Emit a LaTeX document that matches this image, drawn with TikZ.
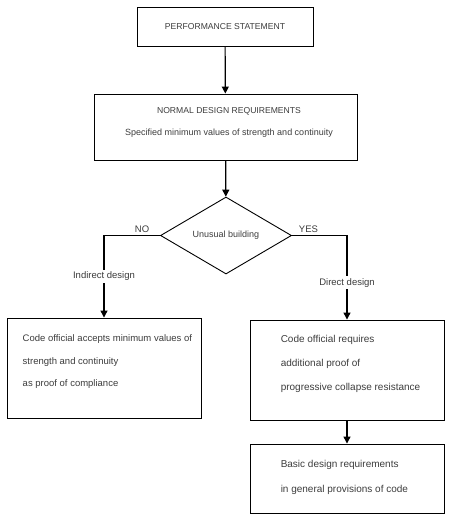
\documentclass[tikz,border=0pt]{standalone}
\usepackage{fontspec}
\setmainfont{Liberation Sans}
\usepackage{tikz}
\usetikzlibrary{shapes.geometric,arrows.meta,positioning,calc}
\definecolor{textgray}{RGB}{60,60,60}

\begin{document}
\begin{tikzpicture}[
    x=1pt, y=-1pt,
    box/.style={draw, line width=0.9pt, rectangle, inner sep=0pt},
    txt/.style={font=\fontsize{10}{24}\selectfont, text=textgray, align=left, inner sep=0pt},
    decision/.style={draw, line width=0.9pt, diamond, minimum width=131pt, minimum height=77pt, inner sep=0pt, font=\fontsize{9}{10}\selectfont, text=textgray},
    flow/.style={-{Triangle[width=7pt,length=7pt]}, line width=1.2pt},
    lbl/.style={font=\fontsize{9.5}{11}\selectfont, text=textgray, fill=white, inner sep=2pt},
]
    \useasboundingbox (0,0) rectangle (455,525);
    % Top boxes
    \node[box, minimum width=176pt, minimum height=39pt, font=\fontsize{8.6}{10}\selectfont, text=textgray] (perf) at (225,26.5) {PERFORMANCE STATEMENT};
    \node[box, minimum width=263pt, minimum height=66pt] (normal) at (225.5,127) {};
    \node[txt, align=center, font=\fontsize{9}{22}\selectfont] (normalText) at (229,122) {{\fontsize{8.6}{10}\selectfont NORMAL DESIGN REQUIREMENTS}\\Specified minimum values of strength and continuity};
    % Decision
    \node[decision] (unusual) at (226,235.5) {Unusual building};
    % Lower boxes
    \node[box, minimum width=194pt, minimum height=100pt] (indirect) at (104,368) {};
    \node[txt, anchor=west, font=\fontsize{9.5}{22.5}\selectfont] (indirectText) at ([xshift=16pt,yshift=6pt]indirect.west) {Code official accepts minimum values of\\strength and continuity\\as proof of compliance};
    \node[box, minimum width=194pt, minimum height=100pt] (direct) at (347,370) {};
    \node[txt, anchor=west] (directText) at ([xshift=31pt,yshift=6pt]direct.west) {Code official requires\\additional proof of\\progressive collapse resistance};
    \node[box, minimum width=194pt, minimum height=69pt] (basic) at (347,478.5) {};
    \node[txt, anchor=west, font=\fontsize{10}{25}\selectfont] (basicText) at ([xshift=31pt,yshift=1pt]basic.west) {Basic design requirements\\in general provisions of code};
    % Connectors
    \draw[flow] (perf) -- (normal);
    \draw[flow] (normal) -- (unusual);
    \draw[flow] (unusual.west) -| node[pos=0.16, lbl, above, fill=none] {NO} node[pos=0.75, lbl] {Indirect design} (indirect.north);
    \draw[flow] (unusual.east) -| node[pos=0.15, lbl, above, fill=none] {YES} node[pos=0.78, lbl] {Direct design} (direct.north);
    \draw[flow] (direct) -- (basic);
\end{tikzpicture}
\end{document}
